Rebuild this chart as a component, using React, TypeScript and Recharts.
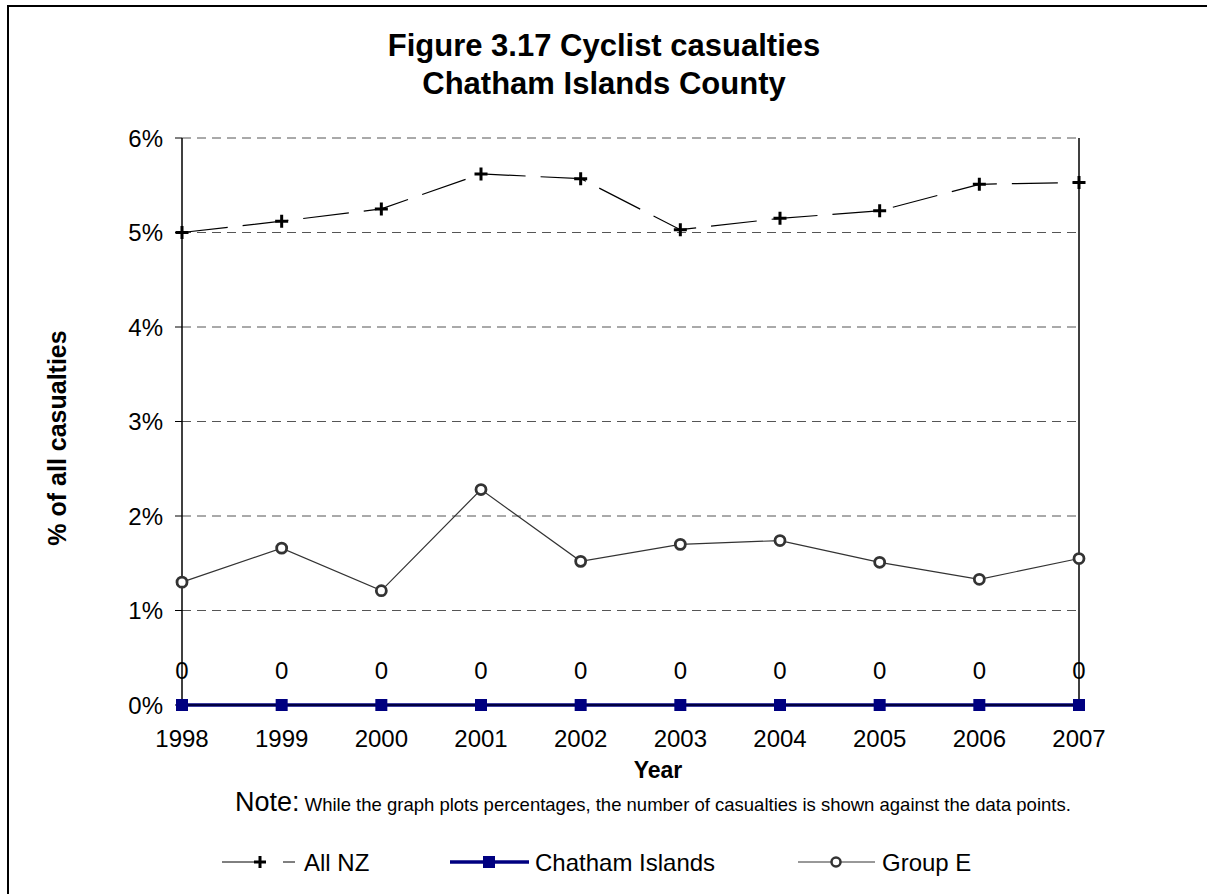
import { LineChart, Line, XAxis, YAxis, CartesianGrid, ReferenceLine, LabelList } from 'recharts'

const years = ['1998', '1999', '2000', '2001', '2002', '2003', '2004', '2005', '2006', '2007']
const allNZ = [5.0, 5.12, 5.25, 5.62, 5.57, 5.03, 5.15, 5.23, 5.51, 5.53]
const chatham = [0, 0, 0, 0, 0, 0, 0, 0, 0, 0]
const chathamCounts = [0, 0, 0, 0, 0, 0, 0, 0, 0, 0]
const groupE = [1.3, 1.66, 1.21, 2.28, 1.52, 1.7, 1.74, 1.51, 1.33, 1.55]
const yTicks = [0, 1, 2, 3, 4, 5, 6]
const seriesNames = ['All NZ', 'Chatham Islands', 'Group E']

const data = years.map((year, i) => ({
  year,
  allNZ: allNZ[i],
  chatham: chatham[i],
  groupE: groupE[i],
  count: chathamCounts[i],
}))

const font = '"Liberation Sans", Arial, sans-serif'
const navy = '#000080'

const PlusDot = (props: any) => {
  const { cx, cy, index } = props
  return (
    <path
      key={`plus-${index}`}
      d={`M${cx - 6.5},${cy}H${cx + 6.5}M${cx},${cy - 6.5}V${cy + 6.5}`}
      stroke="#000"
      strokeWidth={3}
      fill="none"
    />
  )
}

const SquareDot = (props: any) => {
  const { cx, cy, index } = props
  return <rect key={`sq-${index}`} x={cx - 6} y={cy - 6} width={12} height={12} fill={navy} />
}

const CircleDot = (props: any) => {
  const { cx, cy, index } = props
  return <circle key={`c-${index}`} cx={cx} cy={cy} r={5} fill="#fff" stroke="#333" strokeWidth={2.8} />
}

function LegendRow() {
  return (
    <svg width={1207} height={40} style={{ position: 'absolute', left: 0, top: 842 }}>
      <g fontFamily={font} fontSize={24} fill="#000">
        {/* All NZ */}
        <line x1={222} y1={20} x2={295} y2={20} stroke="#000" strokeWidth={1} strokeDasharray="33 28" />
        <path d="M254,20H266M260,14V26" stroke="#000" strokeWidth={3} />
        <text x={304} y={29}>{seriesNames[0]}</text>
        {/* Chatham Islands */}
        <line x1={450} y1={20} x2={529} y2={20} stroke={navy} strokeWidth={3.5} />
        <rect x={483} y={14} width={12} height={12} fill={navy} />
        <text x={535} y={29}>{seriesNames[1]}</text>
        {/* Group E */}
        <line x1={798} y1={20} x2={875} y2={20} stroke="#333" strokeWidth={1} />
        <circle cx={836} cy={20} r={4.5} fill="#fff" stroke="#333" strokeWidth={2.5} />
        <text x={882} y={29}>{seriesNames[2]}</text>
      </g>
    </svg>
  )
}

export default function App() {
  return (
    <div
      style={{
        position: 'absolute',
        left: 0,
        top: 0,
        width: 1207,
        height: 894,
        overflow: 'hidden',
        background: '#fff',
        fontFamily: font,
      }}
    >
      <div
        style={{
          position: 'absolute',
          left: 7,
          top: 5,
          width: 1400,
          height: 1000,
          border: '2px solid #000',
        }}
      />
      <div
        style={{
          position: 'absolute',
          left: 0,
          top: 27,
          width: 1208,
          textAlign: 'center',
          fontWeight: 'bold',
          fontSize: 31,
          lineHeight: '38px',
        }}
      >
        <div>Figure 3.17 Cyclist casualties</div>
        <div>Chatham Islands County</div>
      </div>
      <div
        style={{
          position: 'absolute',
          left: 57,
          top: 438,
          transform: 'translate(-50%, -50%) rotate(-90deg)',
          whiteSpace: 'nowrap',
          fontWeight: 'bold',
          fontSize: 25,
        }}
      >
        % of all casualties
      </div>
      <LineChart
        width={1207}
        height={894}
        data={data}
        margin={{ top: 138, right: 128, bottom: 159, left: 82 }}
        style={{ position: 'absolute', left: 0, top: 0 }}
      >
        <CartesianGrid vertical={false} stroke="#555" strokeDasharray="9 6" />
        <XAxis
          dataKey="year"
          height={30}
          axisLine={{ stroke: '#000' }}
          tickLine={{ stroke: '#000' }}
          tickSize={5}
          tickMargin={20}
          tick={{ fill: '#000', fontSize: 24, fontFamily: font }}
          interval={0}
        />
        <YAxis
          width={100}
          domain={[0, 6]}
          ticks={yTicks}
          tickFormatter={(v: number) => `${v}%`}
          axisLine={{ stroke: '#000', strokeWidth: 1.5 }}
          tickLine={{ stroke: '#000' }}
          tickSize={7}
          tickMargin={12}
          tick={{ fill: '#000', fontSize: 24, fontFamily: font }}
        />
        <ReferenceLine x="2007" stroke="#000" strokeWidth={1.5} />
        <Line
          dataKey="allNZ"
          name={seriesNames[0]}
          stroke="#000"
          strokeWidth={1.2}
          strokeDasharray="46 15"
          dot={PlusDot}
          activeDot={false}
          isAnimationActive={false}
        />
        <Line
          dataKey="groupE"
          name={seriesNames[2]}
          stroke="#333"
          strokeWidth={1.2}
          dot={CircleDot}
          activeDot={false}
          isAnimationActive={false}
        />
        <Line
          dataKey="chatham"
          name={seriesNames[1]}
          stroke={navy}
          strokeWidth={3.5}
          dot={SquareDot}
          activeDot={false}
          isAnimationActive={false}
        >
          <LabelList dataKey="count" position="top" offset={26} fill="#000" fontSize={24} fontFamily={font} />
        </Line>
      </LineChart>
      <div
        style={{
          position: 'absolute',
          left: 658,
          top: 770,
          transform: 'translate(-50%, -50%)',
          fontWeight: 'bold',
          fontSize: 23,
        }}
      >
        Year
      </div>
      <div style={{ position: 'absolute', left: 235, top: 787, whiteSpace: 'nowrap' }}>
        <span style={{ fontSize: 27 }}>Note:</span>
        <span style={{ fontSize: 18.5 }}> While the graph plots percentages, the number of casualties is shown against the data points.</span>
      </div>
      <LegendRow />
    </div>
  )
}
